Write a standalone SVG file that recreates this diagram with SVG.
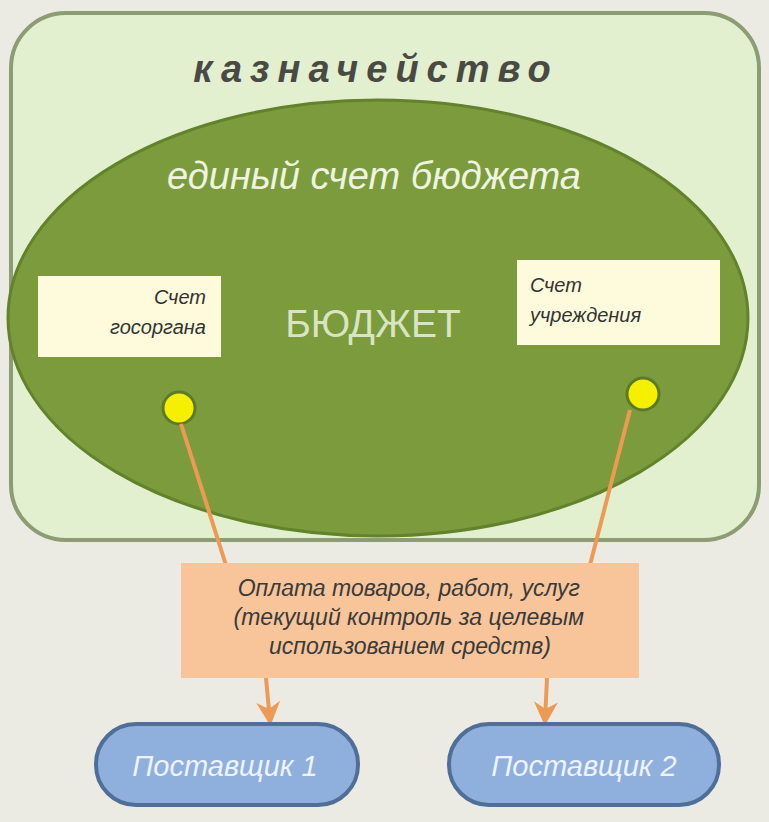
<svg xmlns="http://www.w3.org/2000/svg" width="769" height="822" viewBox="0 0 769 822">
<defs>
<style>
.t{font-family:"Liberation Sans","DejaVu Sans",sans-serif;font-style:italic}
.acc{fill:#fdfbdc}
.accT{font-size:20px;fill:#333}
.sup{fill:#8fb0dc;stroke:#4f6f98;stroke-width:4}
.supT{font-size:29px;fill:#eef2fa;text-anchor:middle}
.con{stroke:#ec9a55;stroke-width:4;fill:none}
.dot{fill:#f5f000;stroke:#5d7a2a;stroke-width:3}
</style>
<marker id="ah" viewBox="0 0 10 10" refX="8" refY="5" markerWidth="6" markerHeight="6" orient="auto">
<path d="M0,0 L10,5 L0,10 L3,5 Z" fill="#ec9a55"/>
</marker>
</defs>
<rect width="769" height="822" fill="#ecebe3"/>
<g id="treasury">
<rect x="11" y="13" width="748" height="527" rx="55" fill="#e3f0cf" stroke="#8c9c74" stroke-width="4"/>
<text class="t" x="376" y="82" text-anchor="middle" font-size="38" font-weight="bold" letter-spacing="8" fill="#4a4a44">казначейство</text>
</g>
<g id="budget">
<ellipse cx="378" cy="318" rx="370" ry="218" fill="#7b9b3d" stroke="#62822c" stroke-width="3"/>
<text class="t" x="374" y="189" text-anchor="middle" font-size="38" fill="#eef4e0">единый счет бюджета</text>
<text x="373" y="337" text-anchor="middle" font-family="'Liberation Sans','DejaVu Sans',sans-serif" font-size="39" fill="#d9e5c2">БЮДЖЕТ</text>
</g>
<g id="acc-gos">
<rect class="acc" x="38" y="276" width="183" height="81"/>
<text class="t accT" x="206" y="304" text-anchor="end">Счет</text>
<text class="t accT" x="206" y="334" text-anchor="end">госоргана</text>
<circle class="dot" cx="179" cy="408" r="16"/>
</g>
<g id="acc-uchr">
<rect class="acc" x="517" y="260" width="203" height="85"/>
<text class="t accT" x="530" y="292">Счет</text>
<text class="t accT" x="530" y="322">учреждения</text>
<circle class="dot" cx="643" cy="394" r="16"/>
</g>
<g id="connectors">
<line class="con" x1="181" y1="424" x2="226" y2="565"/>
<line class="con" x1="630" y1="410" x2="590" y2="565"/>
<line class="con" x1="266" y1="678" x2="270" y2="721" marker-end="url(#ah)"/>
<line class="con" x1="547" y1="678" x2="545" y2="721" marker-end="url(#ah)"/>
</g>
<g id="payment">
<rect x="181" y="563" width="458" height="115" fill="#f8c59a"/>
<text class="t" font-size="23" fill="#3a3a3a" text-anchor="middle">
<tspan x="412" y="596">Оплата  товаров, работ,  услуг</tspan>
<tspan x="412" y="625">(текущий контроль за целевым</tspan>
<tspan x="410" y="654">использованием  средств)</tspan>
</text>
</g>
<g id="supplier1">
<rect class="sup" x="96" y="724" width="262" height="81" rx="40"/>
<text class="t supT" x="225" y="776">Поставщик  1</text>
</g>
<g id="supplier2">
<rect class="sup" x="449" y="724" width="270" height="81" rx="40"/>
<text class="t supT" x="584" y="776">Поставщик  2</text>
</g>
</svg>
